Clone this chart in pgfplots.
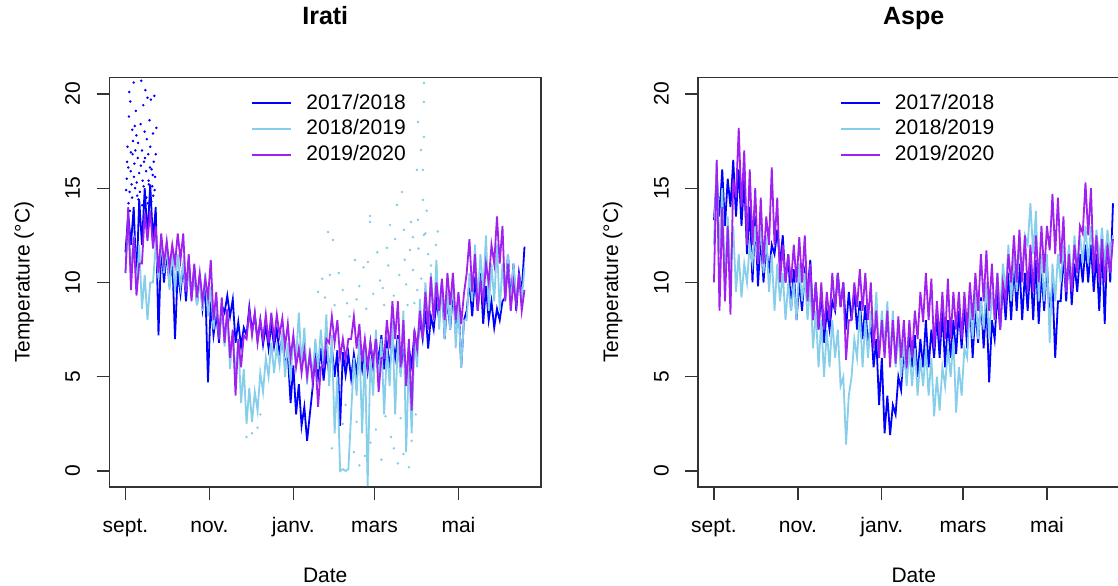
\documentclass[border=0pt]{standalone}
\usepackage{fontspec}
\setmainfont{Liberation Sans}
\usepackage{pgfplots}
\pgfplotsset{compat=1.18}

\definecolor{c17}{HTML}{0000FF}
\definecolor{c18}{HTML}{87CEEB}
\definecolor{c19}{HTML}{A020F0}

% one panel of the R figure: 1 px = 0.5pt
\pgfplotsset{
  panel/.style={
    scale only axis, width=215.75pt, height=204.75pt,
    xmin=-11.6, xmax=302, ymin=-0.85, ymax=20.87,
    axis line style={black!80, line width=0.6pt},
    tick pos=left, tick align=outside, major tick length=6.5pt,
    tick style={black!80, line width=0.6pt},
    xtick={0,61,122,181,242}, xticklabels={sept.,nov.,janv.,mars,mai},
    ytick={0,5,10,15,20},
    /pgf/number format/assume math mode=true,
    xticklabel style={anchor=base, inner sep=0pt},
    yticklabel style={rotate=90, anchor=base, inner sep=0pt},
    xticklabel shift=16pt, yticklabel shift=8.25pt,
    title style={at={(axis description cs:0.5,1.1013)}, anchor=base,
      font=\bfseries\fontsize{12.5}{15}\selectfont},
    xlabel style={at={(axis description cs:0.5,-0.2344)}, anchor=base},
    ylabel style={at={(axis description cs:-0.1854,0.5)}, anchor=base},
    xlabel={Date}, ylabel={Temperature (°C)},
    legend style={draw=none, fill=none, inner sep=0pt,
      at={(axis description cs:0.328,0.963)}, anchor=north west,
      row sep=2.9pt, column sep=7pt,
      nodes={inner sep=0pt, text height=8pt, text depth=2pt}},
    legend cell align=left,
    legend image code/.code={\draw[##1, line width=1pt] (0pt,0pt) -- (19.5pt,0pt);},
  },
  serie/.style={#1, line width=0.9pt},
  dots/.style={#1, only marks, mark=*, mark size=0.4pt, forget plot},
}

\begin{document}
\fontsize{10.5}{12.6}\selectfont
\begin{tikzpicture}
\useasboundingbox (0,0) rectangle (559pt,-292.5pt);

% ---------------- Irati ----------------
\begin{axis}[panel, at={(54.75pt,-38.75pt)}, anchor=north west, title={Irati}]
\addplot[serie=c17] coordinates {
(0,11.6)(2,13.6)(4,12.0)(6,14.0)(8,10.0)(10,14.4)(12,12.0)(14,15.0)(16,12.4)(18,15.2)
(20,12.2)(22,14.0)(24,7.2)(26,12.0)(28,10.0)(30,11.6)(32,9.8)(34,11.4)(36,7.0)(38,10.6)
(40,9.4)(42,11.0)(44,9.0)(46,11.2)(48,9.2)(50,10.8)(52,8.8)(54,10.4)(56,8.6)(58,9.8)
(60,4.7)(62,9.0)(64,7.2)(66,8.3)(68,6.8)(70,8.8)(72,8.4)(74,9.3)(76,8.2)(78,9.1)
(80,6.8)(82,7.9)(84,6.6)(86,7.6)(88,7.2)(90,8.7)(92,7.4)(94,8.3)(96,6.9)(98,8.0)
(100,6.7)(102,7.7)(104,6.5)(106,7.8)(108,6.6)(110,7.5)(112,6.2)(114,7.1)(116,5.6)(118,6.2)
(120,3.6)(122,5.6)(124,3.0)(126,4.6)(128,2.4)(130,3.4)(132,1.6)(134,3.0)(136,4.4)(138,6.2)
(140,5.0)(142,6.5)(144,4.8)(146,6.2)(148,5.2)(150,6.6)(152,5.0)(154,6.4)(156,2.4)(158,6.3)
(160,5.1)(162,6.2)(164,4.9)(166,6.2)(168,5.2)(170,6.5)(172,5.4)(174,6.6)(176,5.3)(178,6.8)
(180,5.5)(182,7.0)(184,5.8)(186,7.2)(188,5.4)(190,6.8)(192,5.5)(194,7.0)(196,6.0)(198,7.2)
(200,5.2)(202,6.8)(204,4.7)(206,6.5)(208,5.6)(210,7.3)(212,6.4)(214,8.0)(216,7.0)(218,8.5)
(220,6.5)(222,8.2)(224,7.5)(226,9.0)(228,8.0)(230,10.0)(232,7.0)(234,9.2)(236,7.5)(238,9.5)
(240,7.8)(242,9.2)(244,5.5)(246,8.0)(248,8.5)(250,10.0)(252,8.2)(254,10.3)(256,8.5)(258,10.5)
(260,7.8)(262,9.8)(264,8.0)(266,9.0)(268,7.6)(270,8.6)(272,8.0)(274,9.0)(276,9.2)(278,11.5)
(280,9.0)(282,11.0)(284,8.5)(286,10.5)(288,9.5)(290,11.9)
};
\addplot[dots=c17] coordinates {
(1,15.5)(1.5,17.2)(2,16.1)(2.5,18.8)(3,14.8)(3.5,19.6)(4,16.9)(4.5,15.2)(5,18.1)(5.5,17.5)
(6,20.6)(6.5,16.3)(7,15.0)(7.5,19.1)(8,17.8)(8.5,14.6)(9,16.6)(10,15.8)(11,18.4)(11.5,20.7)
(12,17.0)(12.5,15.4)(13,19.4)(13.5,16.4)(14,18.0)(14.5,20.2)(15,15.9)(15.5,17.6)(16,19.8)(16.5,16.8)
(17,15.2)(17.5,18.6)(18,17.2)(18.5,19.7)(19,16.0)(19.5,15.1)(20,17.9)(20.5,16.4)(21,19.9)(21.5,15.6)
(3.2,13.8)(9.5,14.4)(16.2,14.2)(20.2,14.6)
(0.5,14.9)(1.2,16.4)(2.2,14.2)(3.8,15.9)(4.8,14.5)(5.2,16.8)(6.2,15.6)(7.2,17.0)(8.2,15.3)
(9.2,17.4)(10.5,14.8)(11.2,16.2)(12.2,14.1)(13.2,15.1)(14.2,16.6)(15.2,14.5)(16.8,15.4)
(17.8,16.1)(18.8,14.3)(19.8,15.7)(21.2,14.9)(22,16.8)(22.5,18.2)(6.8,18.3)(2.8,20.1)
};
\addplot[serie=c18] coordinates {
(0,10.5)(2,13.0)(4,10.6)(6,12.5)(8,9.6)(10,12.0)(12,8.6)(14,10.4)(16,8.0)(18,10.0)
(20,10.0)(22,12.0)(24,10.2)(26,12.2)(28,10.5)(30,12.0)(32,9.6)(34,11.8)(36,9.5)(38,11.5)
(40,9.8)(42,11.0)(44,9.5)(46,11.0)(48,9.2)(50,10.6)(52,8.8)(54,10.3)(56,8.5)(58,10.5)
(60,8.2)(62,9.8)(64,7.5)(66,9.0)(68,7.0)(70,8.9)(72,6.6)(74,8.4)(76,5.4)(78,7.5)
(80,5.0)(82,7.0)(84,3.6)(86,5.4)(88,2.5)(90,4.4)(92,2.6)(94,4.2)(96,3.2)(98,5.2)
(100,4.2)(102,6.0)(104,5.0)(106,6.8)(108,5.2)(110,6.6)(112,5.6)(114,7.4)(116,5.0)(118,6.8)
(120,4.8)(122,7.2)(124,6.0)(126,8.4)(128,5.6)(130,7.6)(132,4.6)(134,6.5)(136,5.0)(138,7.0)
(140,5.4)(142,7.5)(144,5.5)(146,8.3)(148,4.5)(150,7.2)(152,2.0)(154,5.0)(156,0.0)(158,0.1)
(160,0.0)(162,0.1)(164,3.0)(166,6.0)(168,4.0)(170,7.0)(172,2.0)(174,6.5)(176,-0.8)(178,6.0)
(180,4.0)(182,7.5)(184,4.5)(186,7.0)(188,3.0)(190,6.5)(192,4.5)(194,8.0)(196,3.0)(198,7.0)
(200,5.0)(202,8.5)(204,1.0)(206,6.0)(208,2.0)(210,7.0)(212,5.5)(214,9.0)(216,7.0)(218,10.0)
(220,7.5)(222,10.5)(224,8.0)(226,11.2)(228,7.5)(230,10.0)(232,7.0)(234,9.5)(236,7.5)(238,10.5)
(240,6.5)(242,9.0)(244,5.5)(246,8.0)(248,8.0)(250,10.5)(252,9.0)(254,12.0)(256,9.0)(258,11.5)
(260,9.5)(262,12.5)(264,8.5)(266,11.0)(268,9.0)(270,12.0)(272,8.5)(274,11.0)(276,9.0)(278,11.5)
(280,8.5)(282,11.0)(284,9.0)(286,10.5)(288,9.0)(290,10.8)
};
\addplot[dots=c18] coordinates {
(216.9,20.58)(216.9,19.58)(212.6,18.51)(216.9,17.72)(214.8,17.03)(216.2,15.97)(211.8,15.97)
(216.2,14.38)(212.6,13.32)(216.9,12.52)(201.0,14.80)(197.3,14.11)(177.7,13.53)(177.7,13.21)
(176.2,11.09)(192.2,13.05)(190.0,11.83)(166.8,11.19)(147.2,12.68)(150.8,12.25)(148.6,10.40)
(206.8,11.72)(208.9,10.66)(214.0,9.07)(207.5,13.21)(202.4,12.79)(225.6,11.99)
(140,9.5)(143,10.2)(158,9.6)(161,8.9)(170,9.8)(185,10.1)(188,8.8)(195,9.3)(199,10.4)
(204,9.9)(210,8.9)(213,11.8)(215,10.2)(218,12.6)(220,11.5)
(150,1.2)(158,2.5)(166,1.0)(170,0.3)(178,1.5)(182,2.2)(186,0.6)(193,1.8)(198,0.4)
(200,2.8)(206,0.2)(211,3.0)(96,2.3)(98,3.0)
(145,9.2)(152,8.8)(155,10.5)(163,8.2)(168,9.1)(173,10.8)(175,8.6)(180,9.4)(183,11.6)
(187,9.7)(191,10.9)(196,12.3)(203,11.2)(205,8.8)(209,12.4)(212,9.6)(219,13.8)(222,10.9)
(227,12.7)(160,3.5)(163,1.8)(168,2.6)(174,0.8)(189,2.9)(195,1.2)(202,0.9)(208,1.6)
(88,1.8)(92,2.0)
};
\addplot[serie=c19] coordinates {
(0,10.5)(2,14.0)(4,9.6)(6,12.4)(8,9.3)(10,11.0)(12,11.0)(14,13.7)(16,12.2)(18,13.8)
(20,11.8)(22,13.0)(24,10.5)(26,12.6)(28,11.0)(30,12.2)(32,10.8)(34,12.0)(36,11.0)(38,12.6)
(40,11.2)(42,12.6)(44,9.5)(46,11.5)(48,9.0)(50,11.0)(52,9.2)(54,10.5)(56,9.0)(58,10.2)
(60,9.2)(62,11.2)(64,8.0)(66,9.5)(68,7.0)(70,9.2)(72,6.8)(74,8.6)(76,6.0)(78,7.5)
(80,4.0)(82,7.0)(84,5.5)(86,7.2)(88,7.0)(90,8.5)(92,7.2)(94,8.4)(96,6.8)(98,8.0)
(100,7.0)(102,8.3)(104,6.8)(106,8.4)(108,7.0)(110,8.3)(112,7.2)(114,8.1)(116,6.6)(118,7.8)
(120,6.0)(122,7.2)(124,5.5)(126,6.5)(128,5.2)(130,6.4)(132,5.0)(134,6.2)(136,4.7)(138,6.0)
(140,3.4)(142,5.5)(144,5.5)(146,7.0)(148,6.8)(150,8.2)(152,6.8)(154,8.0)(156,6.0)(158,7.0)
(160,5.9)(162,7.0)(164,7.0)(166,8.2)(168,6.5)(170,7.8)(172,5.8)(174,7.0)(176,5.5)(178,6.8)
(180,5.8)(182,7.0)(184,4.2)(186,6.0)(188,6.0)(190,8.0)(192,6.5)(194,9.0)(196,7.0)(198,9.0)
(200,5.5)(202,8.0)(204,4.5)(206,7.0)(208,3.2)(210,7.5)(212,6.5)(214,8.5)(216,7.0)(218,9.5)
(220,7.5)(222,10.3)(224,8.0)(226,10.0)(228,8.5)(230,10.2)(232,8.0)(234,10.5)(236,8.8)(238,10.5)
(240,8.0)(242,9.5)(244,7.8)(246,9.4)(248,10.5)(250,12.3)(252,9.5)(254,11.5)(256,8.5)(258,10.0)
(260,9.0)(262,11.0)(264,10.0)(266,12.0)(268,11.0)(270,13.5)(272,11.0)(274,13.0)(276,9.0)(278,11.0)
(280,8.5)(282,10.0)(284,8.8)(286,10.5)(288,8.5)(290,9.6)
};
\legend{2017/2018,2018/2019,2019/2020}
\end{axis}

% ---------------- Aspe ----------------
\begin{axis}[panel, at={(349pt,-38.75pt)}, anchor=north west, title={Aspe}]
\addplot[serie=c17] coordinates {
(0,13.3)(2,15.6)(4,13.5)(6,16.0)(8,13.0)(10,15.5)(12,14.0)(14,16.5)(16,13.5)(18,16.0)
(20,13.0)(22,15.5)(24,11.5)(26,14.0)(28,10.0)(30,13.5)(32,9.8)(34,12.5)(36,10.0)(38,12.0)
(40,10.5)(42,12.0)(44,11.5)(46,12.8)(48,11.0)(50,12.5)(52,10.0)(54,11.5)(56,8.5)(58,10.7)
(60,8.0)(62,10.0)(64,8.5)(66,10.5)(68,9.5)(70,11.2)(72,8.0)(74,10.0)(76,7.5)(78,9.5)
(80,6.8)(82,8.5)(84,7.5)(86,9.0)(88,8.5)(90,10.5)(92,8.7)(94,10.0)(96,7.5)(98,9.5)
(100,8.0)(102,9.5)(104,7.5)(106,9.0)(108,7.0)(110,8.8)(112,6.5)(114,8.0)(116,5.5)(118,7.0)
(120,3.5)(122,6.0)(124,2.0)(126,4.0)(128,1.9)(130,3.5)(132,3.0)(134,5.0)(136,4.3)(138,6.5)
(140,5.0)(142,7.5)(144,5.5)(146,7.2)(148,5.0)(150,7.0)(152,5.5)(154,8.0)(156,5.5)(158,7.5)
(160,6.0)(162,8.2)(164,6.0)(166,8.5)(168,5.5)(170,8.0)(172,6.0)(174,8.0)(176,6.2)(178,8.5)
(180,6.5)(182,8.8)(184,6.5)(186,9.0)(188,6.0)(190,8.6)(192,6.8)(194,9.2)(196,6.5)(198,9.0)
(200,4.7)(202,8.0)(204,7.0)(206,9.5)(208,7.5)(210,10.0)(212,8.0)(214,10.5)(216,8.0)(218,11.0)
(220,8.5)(222,11.0)(224,8.0)(226,10.5)(228,8.5)(230,11.0)(232,8.0)(234,11.2)(236,7.8)(238,10.5)
(240,8.5)(242,11.0)(244,8.0)(246,10.0)(248,6.0)(250,9.0)(252,9.0)(254,11.5)(256,9.0)(258,11.7)
(260,8.8)(262,11.0)(264,9.5)(266,11.5)(268,10.0)(270,12.0)(272,10.0)(274,12.0)(276,9.5)(278,11.5)
(280,8.5)(282,12.0)(284,7.8)(286,12.5)(288,10.0)(290,14.2)
};
\addplot[serie=c18] coordinates {
(0,12.0)(2,16.5)(4,11.5)(6,15.0)(8,10.0)(10,13.5)(12,10.5)(14,13.0)(16,9.5)(18,11.5)
(20,9.2)(22,11.0)(24,10.0)(26,12.0)(28,11.0)(30,13.0)(32,11.0)(34,13.0)(36,10.5)(38,12.5)
(40,9.5)(42,11.5)(44,8.5)(46,11.0)(48,9.0)(50,10.5)(52,8.0)(54,10.0)(56,8.5)(58,10.0)
(60,8.0)(62,11.0)(64,9.0)(66,10.5)(68,8.0)(70,10.0)(72,6.5)(74,8.5)(76,5.5)(78,8.0)
(80,5.0)(82,7.5)(84,5.5)(86,8.0)(88,6.0)(90,7.5)(92,4.5)(94,5.0)(96,1.4)(98,4.0)
(100,5.0)(102,7.0)(104,6.0)(106,8.5)(108,5.5)(110,8.0)(112,6.0)(114,8.5)(116,7.0)(118,9.5)
(120,6.0)(122,8.5)(124,6.5)(126,9.0)(128,6.0)(130,8.5)(132,5.5)(134,7.5)(136,5.0)(138,7.0)
(140,4.5)(142,6.5)(144,4.5)(146,6.5)(148,4.0)(150,6.0)(152,4.5)(154,6.5)(156,4.0)(158,6.0)
(160,2.9)(162,5.0)(164,3.2)(166,5.5)(168,4.5)(170,6.5)(172,5.0)(174,7.0)(176,3.1)(178,5.5)
(180,4.0)(182,6.5)(184,6.0)(186,9.0)(188,7.0)(190,9.5)(192,7.0)(194,9.0)(196,7.5)(198,10.0)
(200,7.0)(202,9.5)(204,8.0)(206,10.5)(208,8.5)(210,11.0)(212,9.5)(214,12.0)(216,9.0)(218,11.5)
(220,9.5)(222,12.0)(224,10.5)(226,12.5)(228,12.0)(230,14.2)(232,11.5)(234,13.8)(236,9.0)(238,11.5)
(240,9.0)(242,11.5)(244,6.8)(246,11.0)(248,9.0)(250,11.5)(252,10.0)(254,12.0)(256,9.5)(258,12.0)
(260,10.0)(262,12.5)(264,10.5)(266,12.5)(268,11.0)(270,13.0)(272,11.0)(274,13.0)(276,11.0)(278,12.8)
(280,11.2)(282,12.9)(284,11.0)(286,12.8)(288,11.2)(290,12.5)
};
\addplot[serie=c19] coordinates {
(0,10.0)(2,16.5)(4,8.5)(6,14.0)(8,9.0)(10,13.0)(12,8.3)(14,15.5)(16,14.5)(18,18.2)
(20,14.0)(22,17.0)(24,12.0)(26,16.0)(28,12.0)(30,15.0)(32,11.0)(34,14.5)(36,11.0)(38,13.5)
(40,12.0)(42,16.1)(44,12.0)(46,14.5)(48,10.0)(50,12.0)(52,10.0)(54,11.5)(56,10.0)(58,12.0)
(60,10.0)(62,12.4)(64,10.0)(66,12.5)(68,9.0)(70,11.0)(72,8.0)(74,10.0)(76,7.5)(78,10.0)
(80,7.5)(82,9.5)(84,8.0)(86,10.5)(88,8.5)(90,10.5)(92,8.7)(94,10.0)(96,5.9)(98,8.0)
(100,8.0)(102,10.0)(104,8.7)(106,10.7)(108,8.5)(110,10.5)(112,8.0)(114,10.0)(116,6.5)(118,8.5)
(120,6.0)(122,8.0)(124,6.0)(126,8.5)(128,5.5)(130,8.0)(132,5.7)(134,8.2)(136,6.0)(138,8.0)
(140,5.5)(142,8.0)(144,6.0)(146,8.5)(148,7.0)(150,9.5)(152,7.9)(154,10.5)(156,8.0)(158,10.2)
(160,6.5)(162,9.0)(164,7.0)(166,9.5)(168,7.0)(170,10.2)(172,7.0)(174,9.5)(176,7.5)(178,9.5)
(180,7.0)(182,9.5)(184,7.5)(186,10.0)(188,8.0)(190,10.5)(192,8.5)(194,11.5)(196,9.0)(198,11.7)
(200,8.5)(202,11.0)(204,8.0)(206,10.5)(208,7.5)(210,10.0)(212,9.0)(214,11.5)(216,10.0)(218,12.5)
(220,10.0)(222,12.8)(224,10.0)(226,12.5)(228,9.5)(230,12.0)(232,9.5)(234,12.5)(236,10.0)(238,13.0)
(240,10.5)(242,13.0)(244,11.7)(246,14.7)(248,11.5)(250,14.5)(252,11.0)(254,13.5)(256,9.5)(258,11.5)
(260,9.5)(262,12.0)(264,10.5)(266,13.0)(268,12.6)(270,15.3)(272,12.5)(274,15.0)(276,10.5)(278,12.5)
(280,10.0)(282,12.3)(284,10.0)(286,12.0)(288,10.5)(290,12.3)
};
\legend{2017/2018,2018/2019,2019/2020}
\end{axis}
\end{tikzpicture}
\end{document}
